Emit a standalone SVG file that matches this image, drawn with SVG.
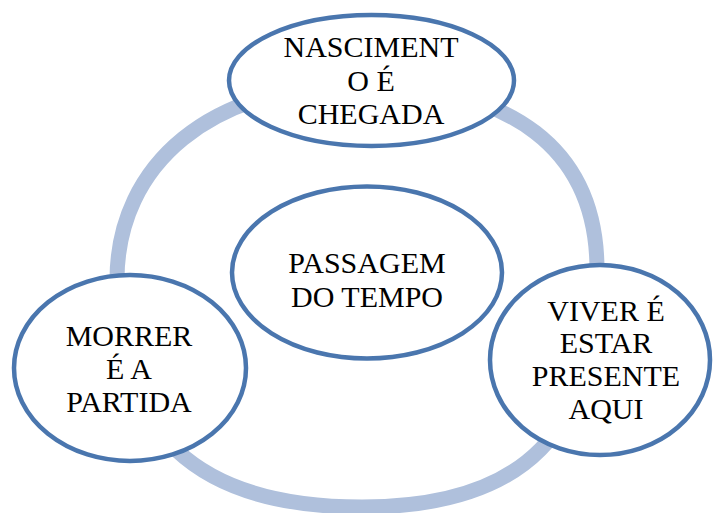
<svg xmlns="http://www.w3.org/2000/svg" width="713" height="513" viewBox="0 0 713 513">
<style>
.node ellipse{fill:#fff;stroke:#4a76ae;stroke-width:4.5}
.node text{font-family:"Liberation Serif","Times New Roman",serif;font-size:30px;fill:#000;text-anchor:middle}
.ring{fill:none;stroke:#afc0dc;stroke-width:15}
</style>
<rect width="713" height="513" fill="#fff"/>
<g id="connectors">
<path class="ring" d="M117,280 C117,163 213,85 357,85 C513,85 597,150 597,270 C597,432 525,507 362,507 C195,507 117,432 117,280 Z"/>
</g>
<g id="node-top" class="node">
<ellipse cx="371.5" cy="80.5" rx="142.5" ry="65.5"/>
<text x="371" y="57">NASCIMENT</text>
<text x="371" y="91">O É</text>
<text x="371" y="124">CHEGADA</text>
</g>
<g id="node-center" class="node">
<ellipse cx="367" cy="272.5" rx="135" ry="86"/>
<text x="367" y="273">PASSAGEM</text>
<text x="367" y="307">DO TEMPO</text>
</g>
<g id="node-left" class="node">
<ellipse cx="130" cy="368" rx="116" ry="93"/>
<text x="129" y="346">MORRER</text>
<text x="129" y="379">É A</text>
<text x="129" y="412">PARTIDA</text>
</g>
<g id="node-right" class="node">
<ellipse cx="600" cy="360" rx="110" ry="95"/>
<text x="606" y="321">VIVER É</text>
<text x="606" y="353">ESTAR</text>
<text x="606" y="386">PRESENTE</text>
<text x="606" y="419">AQUI</text>
</g>
</svg>
